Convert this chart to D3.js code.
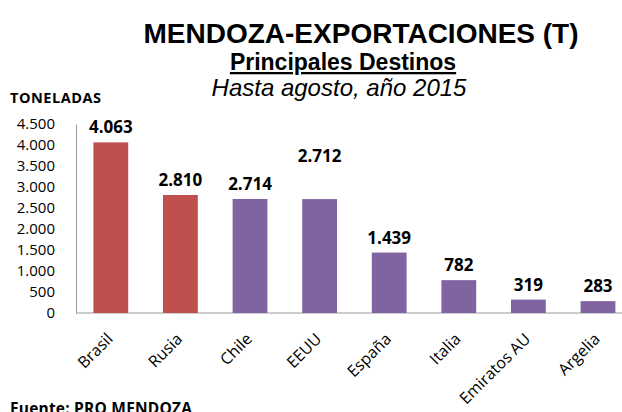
<!DOCTYPE html>
<html>
<head>
<meta charset="utf-8">
<script src="https://cdn.jsdelivr.net/npm/d3@7"></script>
<style>
  body { margin: 0; background: #fff; }
  svg { display: block; }
</style>
</head>
<body>
<div id="chart"></div>
<script>
// Chart data
const paises = ["Brasil", "Rusia", "Chile", "EEUU", "España", "Italia", "Emiratos AU", "Argelia"];
const toneladas = [4063, 2810, 2714, 2712, 1439, 782, 319, 283];
const yTicks = [0, 500, 1000, 1500, 2000, 2500, 3000, 3500, 4000, 4500];
const destacados = ["Brasil", "Rusia"];

const width = 622;
const height = 412;
const margin = {left: 76, top: 124, bottom: 313};

const svg = d3.select("#chart")
  .append("svg")
  .attr("width", width)
  .attr("height", height);

const fmt = d3.formatLocale({decimal: ",", thousands: ".", grouping: [3], currency: ["", ""]}).format(",");

// Scales
const xScale = d3.scaleBand()
  .domain(paises)
  .range([margin.left, margin.left + 8 * 69.6])
  .paddingInner(0.5)
  .paddingOuter(0.25);

const yScale = d3.scaleLinear()
  .domain([0, 4500])
  .range([margin.bottom, margin.top]);

// Titles
svg.append("text")
  .attr("x", 361).attr("y", 43)
  .attr("text-anchor", "middle")
  .attr("font-family", "Liberation Sans, Arial, sans-serif")
  .attr("font-weight", "bold")
  .attr("font-size", "28px")
  .text("MENDOZA-EXPORTACIONES (T)");

svg.append("text")
  .attr("x", 343).attr("y", 70)
  .attr("text-anchor", "middle")
  .attr("font-family", "Liberation Sans, Arial, sans-serif")
  .attr("font-weight", "bold")
  .attr("font-size", "23px")
  .attr("text-decoration", "underline")
  .text("Principales Destinos");

svg.append("text")
  .attr("x", 339).attr("y", 96)
  .attr("text-anchor", "middle")
  .attr("font-family", "Liberation Sans, Arial, sans-serif")
  .attr("font-style", "italic")
  .attr("font-size", "24px")
  .text("Hasta agosto, año 2015");

svg.append("text")
  .attr("x", 10).attr("y", 103)
  .attr("font-family", "Open Sans, sans-serif")
  .attr("font-weight", "bold")
  .attr("font-size", "14.5px")
  .attr("textLength", 91)
  .text("TONELADAS");

svg.append("text")
  .attr("x", 10).attr("y", 414)
  .attr("font-family", "Open Sans, sans-serif")
  .attr("font-weight", "bold")
  .attr("font-size", "15.5px")
  .attr("textLength", 182)
  .text("Fuente: PRO MENDOZA");

// Y axis
const yAxis = svg.append("g")
  .attr("transform", `translate(${margin.left},0)`)
  .call(d3.axisLeft(yScale).tickValues(yTicks).tickSize(0).tickPadding(21).tickFormat(fmt));
yAxis.select(".domain").attr("stroke", "#999");
yAxis.selectAll("text")
  .attr("font-family", "Open Sans, sans-serif")
  .attr("font-size", "15px")
  .attr("fill", "#000");

// X axis
const xAxis = svg.append("g")
  .attr("transform", `translate(0,${margin.bottom})`)
  .call(d3.axisBottom(xScale).tickSize(0).tickPadding(0));
xAxis.select(".domain").attr("stroke", "#999").attr("d", `M${margin.left},0H${width}`);
xAxis.selectAll("text")
  .attr("font-family", "Open Sans, sans-serif")
  .attr("font-size", "16px")
  .attr("fill", "#000")
  .attr("text-anchor", "end")
  .attr("dy", "0")
  .attr("transform", "translate(3,27) rotate(-45)");

// Bars
svg.selectAll(".bar")
  .data(paises)
  .enter()
  .append("rect")
  .attr("class", "bar")
  .attr("x", d => xScale(d))
  .attr("y", (d, i) => yScale(toneladas[i]))
  .attr("width", xScale.bandwidth())
  .attr("height", (d, i) => margin.bottom - yScale(toneladas[i]))
  .attr("fill", d => destacados.includes(d) ? "#C0504D" : "#8064A2");

// Value labels (EEUU label sits higher in the original)
svg.selectAll(".label")
  .data(paises)
  .enter()
  .append("text")
  .attr("class", "label")
  .attr("x", d => xScale(d) + xScale.bandwidth() / 2)
  .attr("y", (d, i) => yScale(toneladas[i]) - (d === "EEUU" ? 37 : 9))
  .attr("text-anchor", "middle")
  .attr("font-family", "Open Sans, sans-serif")
  .attr("font-weight", "bold")
  .attr("font-size", "17px")
  .text((d, i) => fmt(toneladas[i]));
</script>
</body>
</html>
